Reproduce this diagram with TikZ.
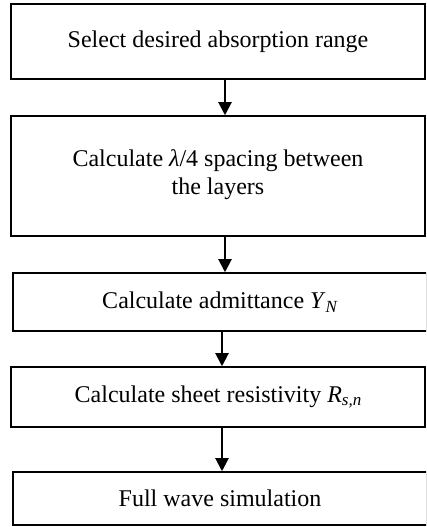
\documentclass[tikz,border=0pt]{standalone}
\usepackage{fontspec}
\setmainfont{Liberation Serif}
\usetikzlibrary{arrows.meta}
\newcommand{\lowsub}[1]{\raisebox{-0.35ex}{\fontsize{17}{17}\selectfont\textit{#1}}}
\begin{document}
\begin{tikzpicture}[x=1pt,y=1pt,
  box/.style={draw, line width=1.5pt, inner sep=0pt, align=center,
    minimum width=414pt, font=\fontsize{24}{28}\selectfont},
  arr/.style={line width=2pt, -{Triangle[length=13pt,width=13pt]}}]
\useasboundingbox (0,0) rectangle (426,527);
\clip (0,0) rectangle (426,527);
\node[box, minimum height=75pt] (b1) at (218,485.5) {Select desired absorption range};
\node[box, minimum height=120pt] (b2) at (218,351) {};
\node[align=center, font=\fontsize{24}{28}\selectfont] (t2) at (218,352) {Calculate \textit{λ}/4 spacing between\\ the layers};
\node[box, minimum height=58pt] (b3) at (220,225) {Calculate admittance \textit{Y}\lowsub{N}};
\node[box, minimum height=60pt] (b4) at (218,130) {Calculate sheet resistivity \textit{R}\lowsub{s,n}};
\node[box, minimum height=53pt] (b5) at (220,28.5) {Full wave simulation};
\coordinate (xa) at (225,0);
\coordinate (xb) at (222,0);
\draw[arr] (b1.south -| xa) -- (b2.north -| xa);
\draw[arr] (b2.south -| xa) -- (b3.north -| xa);
\draw[arr] (b3.south -| xb) -- (b4.north -| xb);
\draw[arr] (b4.south -| xb) -- (b5.north -| xb);
\end{tikzpicture}
\end{document}
